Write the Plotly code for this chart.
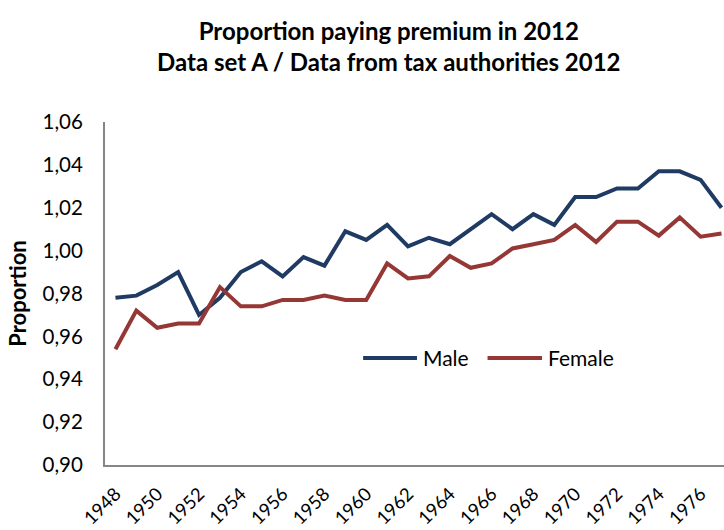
import plotly.graph_objects as go

# Birth cohorts and proportion paying premium
years = list(range(1948, 1978))
male = [0.978, 0.979, 0.984, 0.990, 0.970, 0.978, 0.990, 0.995, 0.988, 0.997,
        0.993, 1.009, 1.005, 1.012, 1.002, 1.006, 1.003, 1.010, 1.017, 1.010,
        1.017, 1.012, 1.025, 1.025, 1.029, 1.029, 1.037, 1.037, 1.033, 1.020]
female = [0.954, 0.972, 0.964, 0.966, 0.966, 0.983, 0.974, 0.974, 0.977, 0.977,
          0.979, 0.977, 0.977, 0.994, 0.987, 0.988, 0.9975, 0.992, 0.994, 1.001,
          1.003, 1.005, 1.012, 1.004, 1.0135, 1.0135, 1.007, 1.0155, 1.0065, 1.008]

series_names = ["Male", "Female"]
series_colors = ["#1F3B63", "#953735"]

x_ticks = list(range(1948, 1977, 2))
y_ticks = [0.90, 0.92, 0.94, 0.96, 0.98, 1.00, 1.02, 1.04, 1.06]

FONT = "Lato"
AXIS_GREY = "#868686"

fig = go.Figure()
for name, vals, color in zip(series_names, [male, female], series_colors):
    fig.add_trace(go.Scatter(x=years, y=vals, name=name, mode="lines",
                             line=dict(color=color, width=4), showlegend=False))

# Legend drawn inside the plot area: long line swatch followed by the label
legend_y = 0.312
swatches = [(0.417, 0.504, 0.511), (0.618, 0.706, 0.712)]
for (x0, x1, xt), name, color in zip(swatches, series_names, series_colors):
    fig.add_shape(type="line", xref="paper", yref="paper",
                  x0=x0, x1=x1, y0=legend_y, y1=legend_y,
                  line=dict(color=color, width=4))
    fig.add_annotation(text=name, xref="paper", yref="paper", x=xt, y=legend_y,
                       xanchor="left", yanchor="middle", showarrow=False,
                       font=dict(size=21, family=FONT, color="#000000"))

fig.update_layout(
    width=724, height=530,
    margin=dict(l=105, r=0, t=122, b=65),
    paper_bgcolor="white", plot_bgcolor="white",
    separators=",.",
    font=dict(family=FONT, color="#000000"),
    title=dict(
        text="<b>Proportion paying premium in 2012<br>Data set A / Data from tax authorities 2012</b>",
        x=0.537, xanchor="center", yref="container", y=0.925, yanchor="top",
        font=dict(size=24, family=FONT),
    ),
    showlegend=False,
)

fig.update_xaxes(
    range=[1947.5, 1977.12], automargin=False,
    tickmode="array", tickvals=x_ticks, ticktext=[str(v) for v in x_ticks],
    tickangle=-45, tickfont=dict(size=18.5, family=FONT),
    showgrid=False, zeroline=False,
    showline=True, linecolor=AXIS_GREY, linewidth=2,
    ticks="outside", ticklen=9, tickcolor="rgba(0,0,0,0)",
)
fig.update_yaxes(
    range=[0.90, 1.06], automargin=False,
    tickmode="array", tickvals=y_ticks, tickformat=".2f",
    tickfont=dict(size=20.5, family=FONT),
    showgrid=False, zeroline=False,
    showline=True, linecolor=AXIS_GREY, linewidth=2,
    ticks="outside", ticklen=16, tickcolor="rgba(0,0,0,0)",
    title=dict(text="<b>Proportion</b>", font=dict(size=22, family=FONT), standoff=10),
)

fig.write_html("out.html")
